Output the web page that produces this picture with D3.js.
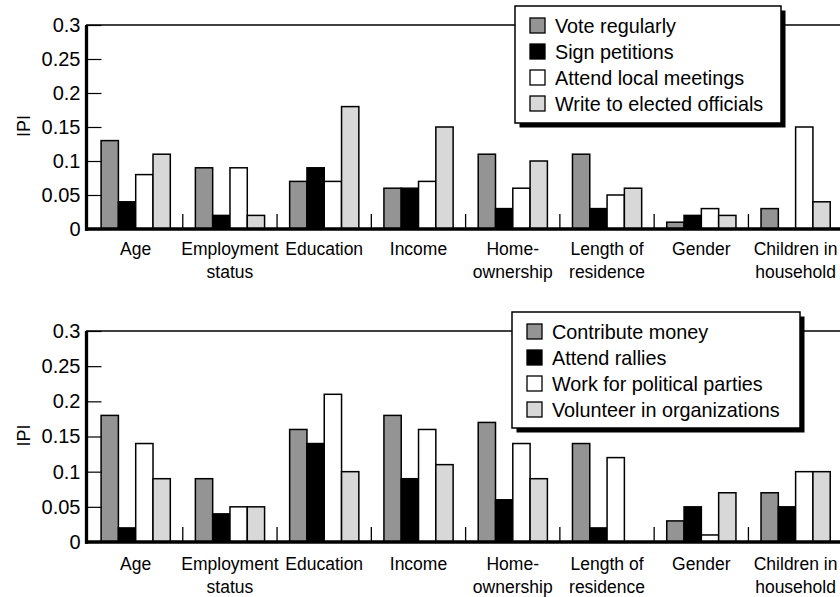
<!DOCTYPE html>
<html lang="en">

<head>
    <meta charset="utf-8">
    <script src="https://d3js.org/d3.v7.min.js"></script>
    <style>
        body { margin: 0; background: #fff; }
        svg { display: block; font-family: "Liberation Sans", Arial, Helvetica, sans-serif; }
    </style>
</head>

<body>
    <div id="chart"></div>

    <script>
        // categories shared by both panels ("\n" = line break in label)
        const categories = ["Age", "Employment\nstatus", "Education", "Income", "Home-\nownership",
            "Length of\nresidence", "Gender", "Children in\nhousehold"];

        // y axis ticks
        const tickValues = [0, 0.05, 0.1, 0.15, 0.2, 0.25, 0.3];
        const tickLabels = ["0", "0.05", "0.1", "0.15", "0.2", "0.25", "0.3"];

        // top panel
        const topSeries = ["Vote regularly", "Sign petitions", "Attend local meetings", "Write to elected officials"];
        const voteRegularly = [0.13, 0.09, 0.07, 0.06, 0.11, 0.11, 0.01, 0.03];
        const signPetitions = [0.04, 0.02, 0.09, 0.06, 0.03, 0.03, 0.02, 0];
        const attendMeetings = [0.08, 0.09, 0.07, 0.07, 0.06, 0.05, 0.03, 0.15];
        const writeOfficials = [0.11, 0.02, 0.18, 0.15, 0.10, 0.06, 0.02, 0.04];

        // bottom panel
        const bottomSeries = ["Contribute money", "Attend rallies", "Work for political parties", "Volunteer in organizations"];
        const contributeMoney = [0.18, 0.09, 0.16, 0.18, 0.17, 0.14, 0.03, 0.07];
        const attendRallies = [0.02, 0.04, 0.14, 0.09, 0.06, 0.02, 0.05, 0.05];
        const workParties = [0.14, 0.05, 0.21, 0.16, 0.14, 0.12, 0.01, 0.10];
        const volunteerOrgs = [0.09, 0.05, 0.10, 0.11, 0.09, 0, 0.07, 0.10];

        const colors = ["#949494", "#000000", "#ffffff", "#d8d8d8"];
        const width = 840;
        const height = 597;

        const svg = d3.select("#chart").append("svg")
            .attr("width", width)
            .attr("height", height);

        // draws one panel: bars, axes, legend
        function drawPanel(p) {
            const values = p.values;
            const g = svg.append("g");

            const y = d3.scaleLinear().domain([0, 0.3]).range([p.zero, p.top]);
            const x = d3.scaleBand().domain(categories).range([88.5, 842.7]);
            // bars inside each category
            const xs = d3.scaleBand().domain(d3.range(p.series.length)).range([12.6, 81.8]);

            // bars
            const groups = g.selectAll(".cat")
                .data(categories)
                .enter()
                .append("g")
                .attr("transform", d => "translate(" + x(d) + ",0)");

            groups.selectAll("rect")
                .data((d, ci) => values.map((s, si) => ({ si: si, v: s[ci] })).filter(b => b.v > 0))
                .enter()
                .append("rect")
                .attr("x", b => xs(b.si))
                .attr("y", b => y(b.v))
                .attr("width", xs.bandwidth())
                .attr("height", b => y(0) - y(b.v))
                .attr("fill", b => colors[b.si])
                .attr("stroke", "#000")
                .attr("stroke-width", 1.5);

            // y axis with inward ticks
            const yAxis = d3.axisLeft(y)
                .tickValues(tickValues)
                .tickFormat((d, i) => tickLabels[i])
                .tickSizeInner(-15)
                .tickSizeOuter(0)
                .tickPadding(6);
            const ya = g.append("g")
                .attr("transform", "translate(86.5,0)")
                .call(yAxis);
            ya.select(".domain").remove();
            ya.selectAll("line").attr("stroke", "#000").attr("stroke-width", 1.2);
            ya.selectAll("text")
                .attr("fill", "#000")
                .style("font-size", "20px")
                .style("font-family", "'Liberation Sans', Arial, sans-serif");

            // top frame line
            g.append("line")
                .attr("x1", 86).attr("x2", width)
                .attr("y1", y(0.3)).attr("y2", y(0.3))
                .attr("stroke", "#000").attr("stroke-width", 1.3);

            // category separators
            g.selectAll(".sep")
                .data(categories.slice(1))
                .enter()
                .append("line")
                .attr("x1", d => x(d)).attr("x2", d => x(d))
                .attr("y1", y(0) - 15).attr("y2", y(0))
                .attr("stroke", "#000").attr("stroke-width", 1.3);

            // thick left and bottom axis lines
            g.append("line")
                .attr("x1", 86.5).attr("x2", 86.5)
                .attr("y1", y(0.3)).attr("y2", y(0) + 1.7)
                .attr("stroke", "#000").attr("stroke-width", 3.3);
            g.append("line")
                .attr("x1", 85).attr("x2", width)
                .attr("y1", y(0)).attr("y2", y(0))
                .attr("stroke", "#000").attr("stroke-width", 3.3);

            // category labels
            const labels = g.selectAll(".lab")
                .data(categories)
                .enter()
                .append("text")
                .attr("text-anchor", "middle")
                .style("font-size", "17.5px")
                .attr("fill", "#000");
            labels.selectAll("tspan")
                .data(d => d.split("\n").map(t => ({ t: t, c: d })))
                .enter()
                .append("tspan")
                .attr("x", d => x(d.c) + x.bandwidth() / 2)
                .attr("y", (d, i) => y(0) + p.labelOffset + i * 23)
                .text(d => d.t);

            // y title
            g.append("text")
                .attr("transform", "translate(30," + (y(0.15) - 1) + ") rotate(-90)")
                .attr("text-anchor", "middle")
                .style("font-size", "18px")
                .text("IPI");

            // legend with drop shadow
            const L = p.legend;
            g.append("rect")
                .attr("x", L.x + 4.5).attr("y", L.y + 4.5)
                .attr("width", L.w).attr("height", L.h)
                .attr("fill", "#000");
            g.append("rect")
                .attr("x", L.x).attr("y", L.y)
                .attr("width", L.w).attr("height", L.h)
                .attr("fill", "#fff")
                .attr("stroke", "#000").attr("stroke-width", 1.5);
            const items = g.selectAll(".leg")
                .data(p.series)
                .enter()
                .append("g")
                .attr("transform", (d, i) => "translate(" + (L.x + 15) + "," + (L.y + 19.5 + i * 26) + ")");
            items.append("rect")
                .attr("x", 0).attr("y", -7.5)
                .attr("width", 15).attr("height", 15)
                .attr("fill", (d, i) => colors[i])
                .attr("stroke", "#000").attr("stroke-width", 1.3);
            items.append("text")
                .attr("x", 25).attr("y", 7)
                .style("font-size", "19.8px")
                .text(d => d);
        }

        drawPanel({
            top: 25, zero: 229, labelOffset: 26,
            series: topSeries,
            values: [voteRegularly, signPetitions, attendMeetings, writeOfficials],
            legend: { x: 515, y: 6, w: 266, h: 117 }
        });

        drawPanel({
            top: 331, zero: 542, labelOffset: 28,
            series: bottomSeries,
            values: [contributeMoney, attendRallies, workParties, volunteerOrgs],
            legend: { x: 512, y: 312, w: 288, h: 116 }
        });
    </script>
</body>

</html>
